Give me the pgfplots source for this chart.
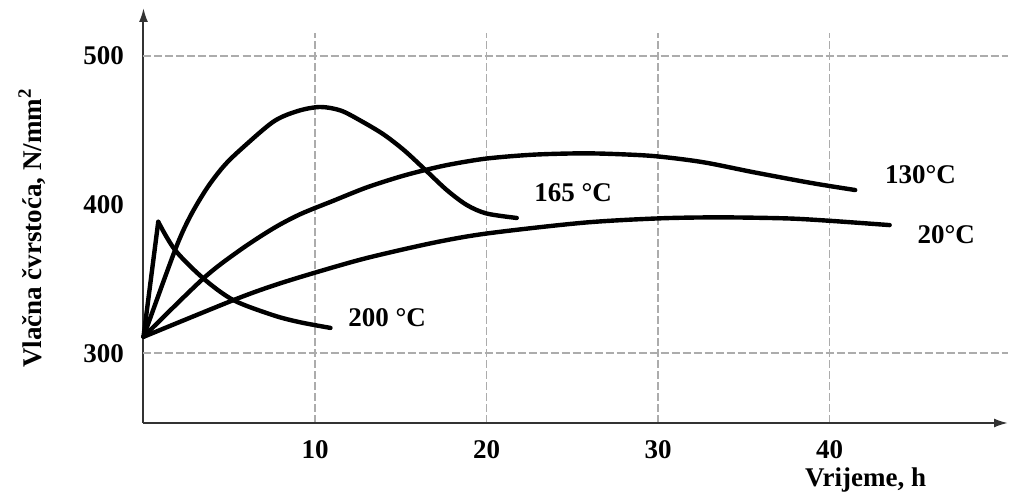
\documentclass[border=0pt]{standalone}
\usepackage{fontspec}
\setmainfont{Liberation Serif}
\usepackage{pgfplots}
\pgfplotsset{compat=1.18}
\usetikzlibrary{arrows.meta}
\begin{document}
\begin{tikzpicture}[curve/.style={black, line width=2.2pt, no markers, line cap=round, line join=round}]
\begin{axis}[
 name=ax,
 scale only axis,
 width=432.25pt, height=195pt,
 xmin=0, xmax=50.4, ymin=253, ymax=515.5,
 axis lines=left,
 axis line style={black!80, line width=1pt, -{Latex[length=7pt,width=4.5pt]}},
 y axis line style={shorten >=-12.5pt},
 xtick={10,20,30,40}, ytick={300,400,500},
 major tick length=0pt,
 xmajorgrids=true,
 extra y ticks={300,500}, extra y tick labels={}, extra y tick style={grid=major},
 grid style={gray!65, line width=0.7pt, dash pattern=on 4pt off 1.5pt},
 tick label style={font=\fontsize{13.5}{15}\selectfont\bfseries},
 /pgf/number format/assume math mode=true,
 xticklabel style={yshift=-5pt},
 yticklabel style={xshift=-6.3pt},
 ylabel={Vlačna čvrstoća, N/mm\textsuperscript{2}},
 ylabel style={at={(axis description cs:-0.129,0.5)}, anchor=center, font=\fontsize{13.5}{16}\selectfont\bfseries},
 clip=false,
]
% 200 C
\addplot[curve, sharp plot] coordinates {(0,311) (0.86,388.4)};
\addplot[curve, smooth] coordinates {(0.86,388.4) (1.84,369.4) (3.49,350.3) (5.24,335.7) (7.57,325.5) (9.13,320.8) (10.9,317)};
% 165 C
\addplot[curve, smooth] coordinates {(0,311) (1.84,369.4) (2.71,391.8) (3.69,410.9) (4.65,425.5) (5.63,436.7) (7.57,455.8) (9,463) (10.3,465.7) (11.5,463.3) (12.7,456.2) (14,447.2) (15.2,436.5) (16.4,423.7) (17.68,409.8) (18.85,399.7) (20,394) (21.76,391)};
% 130 C
\addplot[curve, smooth] coordinates {(0,311) (3.49,350.3) (5.63,369.4) (7.57,384) (9.13,393.5) (11.05,402.5) (13,411.5) (14.96,418.8) (16.4,423.2) (17.87,427) (20,431) (22.73,433.6) (25.64,434.5) (28,433.8) (30,432.4) (32.64,428.5) (35.56,421.8) (38.47,415.5) (40,412.5) (41.49,409.8)};
% 20 C
\addplot[curve, smooth] coordinates {(0,311) (5.24,335.7) (7.57,345.5) (10,354.2) (13,364) (16.9,374.3) (20.05,380.6) (25.64,387.8) (30,390.7) (33.6,391.4) (37.5,390.7) (40,389.1) (43.5,386.2)};

\node[font=\fontsize{13.5}{16}\selectfont\bfseries] at (axis cs:45.3,419.9) {130°C};
\node[font=\fontsize{13.5}{16}\selectfont\bfseries] at (axis cs:46.8,379.5) {20°C};
\node[font=\fontsize{13.5}{16}\selectfont\bfseries] at (axis cs:25.05,407.7) {165 °C};
\node[font=\fontsize{13.5}{16}\selectfont\bfseries] at (axis cs:14.2,323.6) {200 °C};
\node[font=\fontsize{13.5}{16}\selectfont\bfseries] at (axis cs:42.1,214.5) {Vrijeme, h};
\end{axis}
\pgfresetboundingbox
\path (ax.south west) +(-71.75pt,-37pt) rectangle +(433.75pt,211.5pt);
\end{tikzpicture}
\end{document}
